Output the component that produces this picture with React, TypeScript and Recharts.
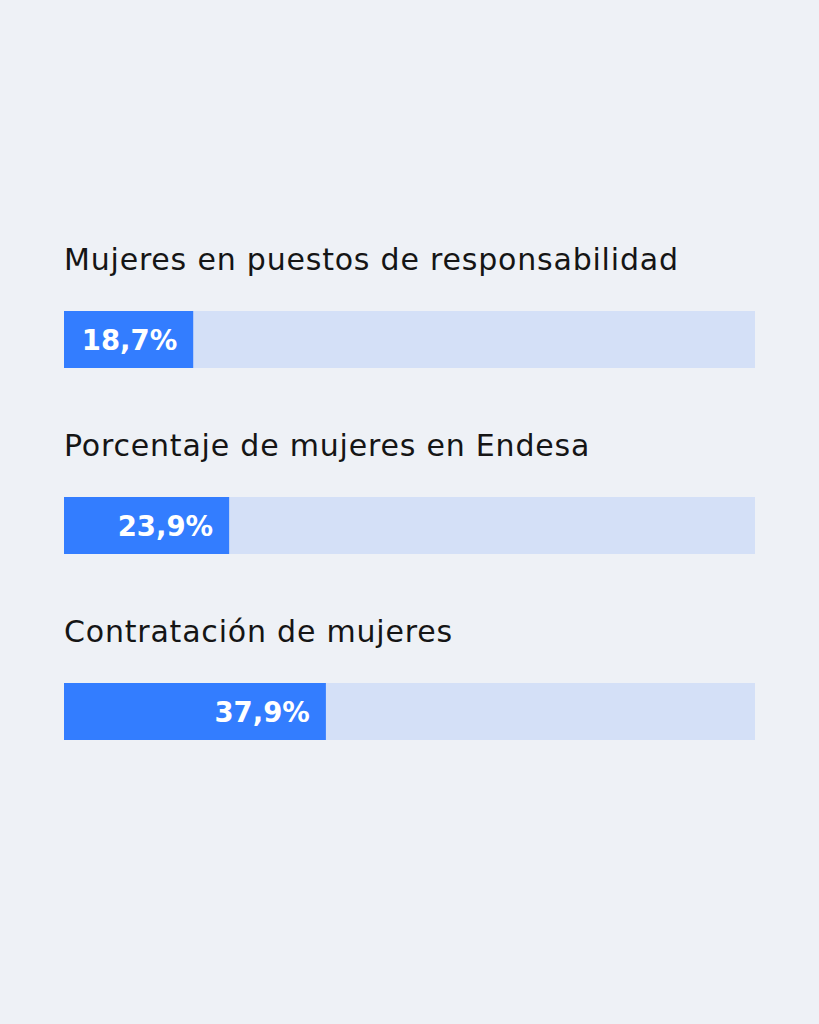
import { BarChart, Bar, XAxis, YAxis, LabelList } from "recharts";

const categories = [
  "Mujeres en puestos de responsabilidad",
  "Porcentaje de mujeres en Endesa",
  "Contratación de mujeres",
];
const values = [18.7, 23.9, 37.9];
const valueLabels = ["18,7%", "23,9%", "37,9%"];

const data = categories.map((name, i) => ({ name, value: values[i], label: valueLabels[i] }));

const BG = "#EEF1F6";
const TRACK = "#D4E0F7";
const BLUE = "#337DFF";

// category title sits above its bar
const renderName = (props: any) => {
  const { x, y, value } = props;
  return (
    <text x={x} y={y - 41} fill="#151515" fontSize={30} letterSpacing={0.8} fontFamily="DejaVu Sans, sans-serif">
      {value}
    </text>
  );
};

// percentage, right-aligned inside the blue part
const renderValue = (props: any) => {
  const { x, y, width, height, value } = props;
  return (
    <text
      x={x + width - 16}
      y={y + height / 2 + 10}
      fill="#ffffff"
      fontSize={27.5}
      fontWeight={700}
      textAnchor="end"
      fontFamily="DejaVu Sans, sans-serif"
    >
      {value}
    </text>
  );
};

export default function App() {
  return (
    <div style={{ position: "fixed", left: 0, top: 0, width: 819, height: 1024, background: BG }}>
      <BarChart
        width={819}
        height={1024}
        data={data}
        layout="vertical"
        margin={{ top: 246, right: 64, bottom: 220, left: 64 }}
      >
        <XAxis type="number" domain={[0, 100]} hide />
        <YAxis type="category" dataKey="name" hide />
        <Bar dataKey="value" fill={BLUE} barSize={57} background={{ fill: TRACK }} isAnimationActive={false}>
          <LabelList dataKey="name" content={renderName} />
          <LabelList dataKey="label" content={renderValue} />
        </Bar>
      </BarChart>
    </div>
  );
}
